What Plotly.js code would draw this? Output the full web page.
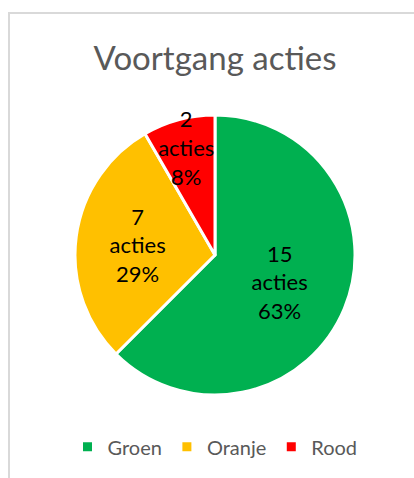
<!DOCTYPE html>
<html>
<head>
<meta charset="utf-8">
<script src="https://cdn.plot.ly/plotly-3.0.1.min.js"></script>
<style>
html,body{margin:0;padding:0;background:#fff;overflow:hidden;}
#chart{width:414px;height:478px;position:absolute;left:0;top:0;}
#frame{position:absolute;left:8px;top:12px;width:600px;height:600px;border-left:2px solid #d9d9d9;border-top:2px solid #d9d9d9;pointer-events:none;}
</style>
</head>
<body>
<div id="chart"></div>
<div id="frame"></div>
<script>
const categories = ["Groen", "Oranje", "Rood"];
const values = [15, 7, 2];
const colors = ["#00b050", "#ffc000", "#ff0000"];
const unit = "acties";
const titleText = "Voortgang acties";

const trace = {
  type: "pie",
  labels: categories,
  values: values,
  sort: false,
  direction: "clockwise",
  rotation: 0,
  marker: { colors: colors, line: { color: "#ffffff", width: 3 } },
  texttemplate: "%{value}<br>" + unit + "<br>%{percent:.0%}",
  textposition: "inside",
  insidetextorientation: "horizontal",
  textfont: { family: "Lato, sans-serif", size: 22, color: "#000000" },
  hoverinfo: "none"
};

const layout = {
  width: 414,
  height: 478,
  margin: { l: 16, r: 0, t: 115, b: 83 },
  paper_bgcolor: "#ffffff",
  showlegend: true,
  uniformtext: { mode: "show", minsize: 22 },
  title: {
    text: titleText,
    font: { family: "Lato, sans-serif", size: 33, color: "#595959" },
    x: 0.5, xref: "paper", xanchor: "center",
    y: 0.878, yref: "container", yanchor: "middle"
  },
  legend: {
    orientation: "h",
    x: 0.5, xanchor: "center",
    y: -0.185, yanchor: "middle",
    font: { family: "Lato, sans-serif", size: 20, color: "#595959" },
    itemwidth: 30
  }
};

Plotly.newPlot("chart", [trace], layout, { displayModeBar: false, staticPlot: true });
</script>
</body>
</html>
